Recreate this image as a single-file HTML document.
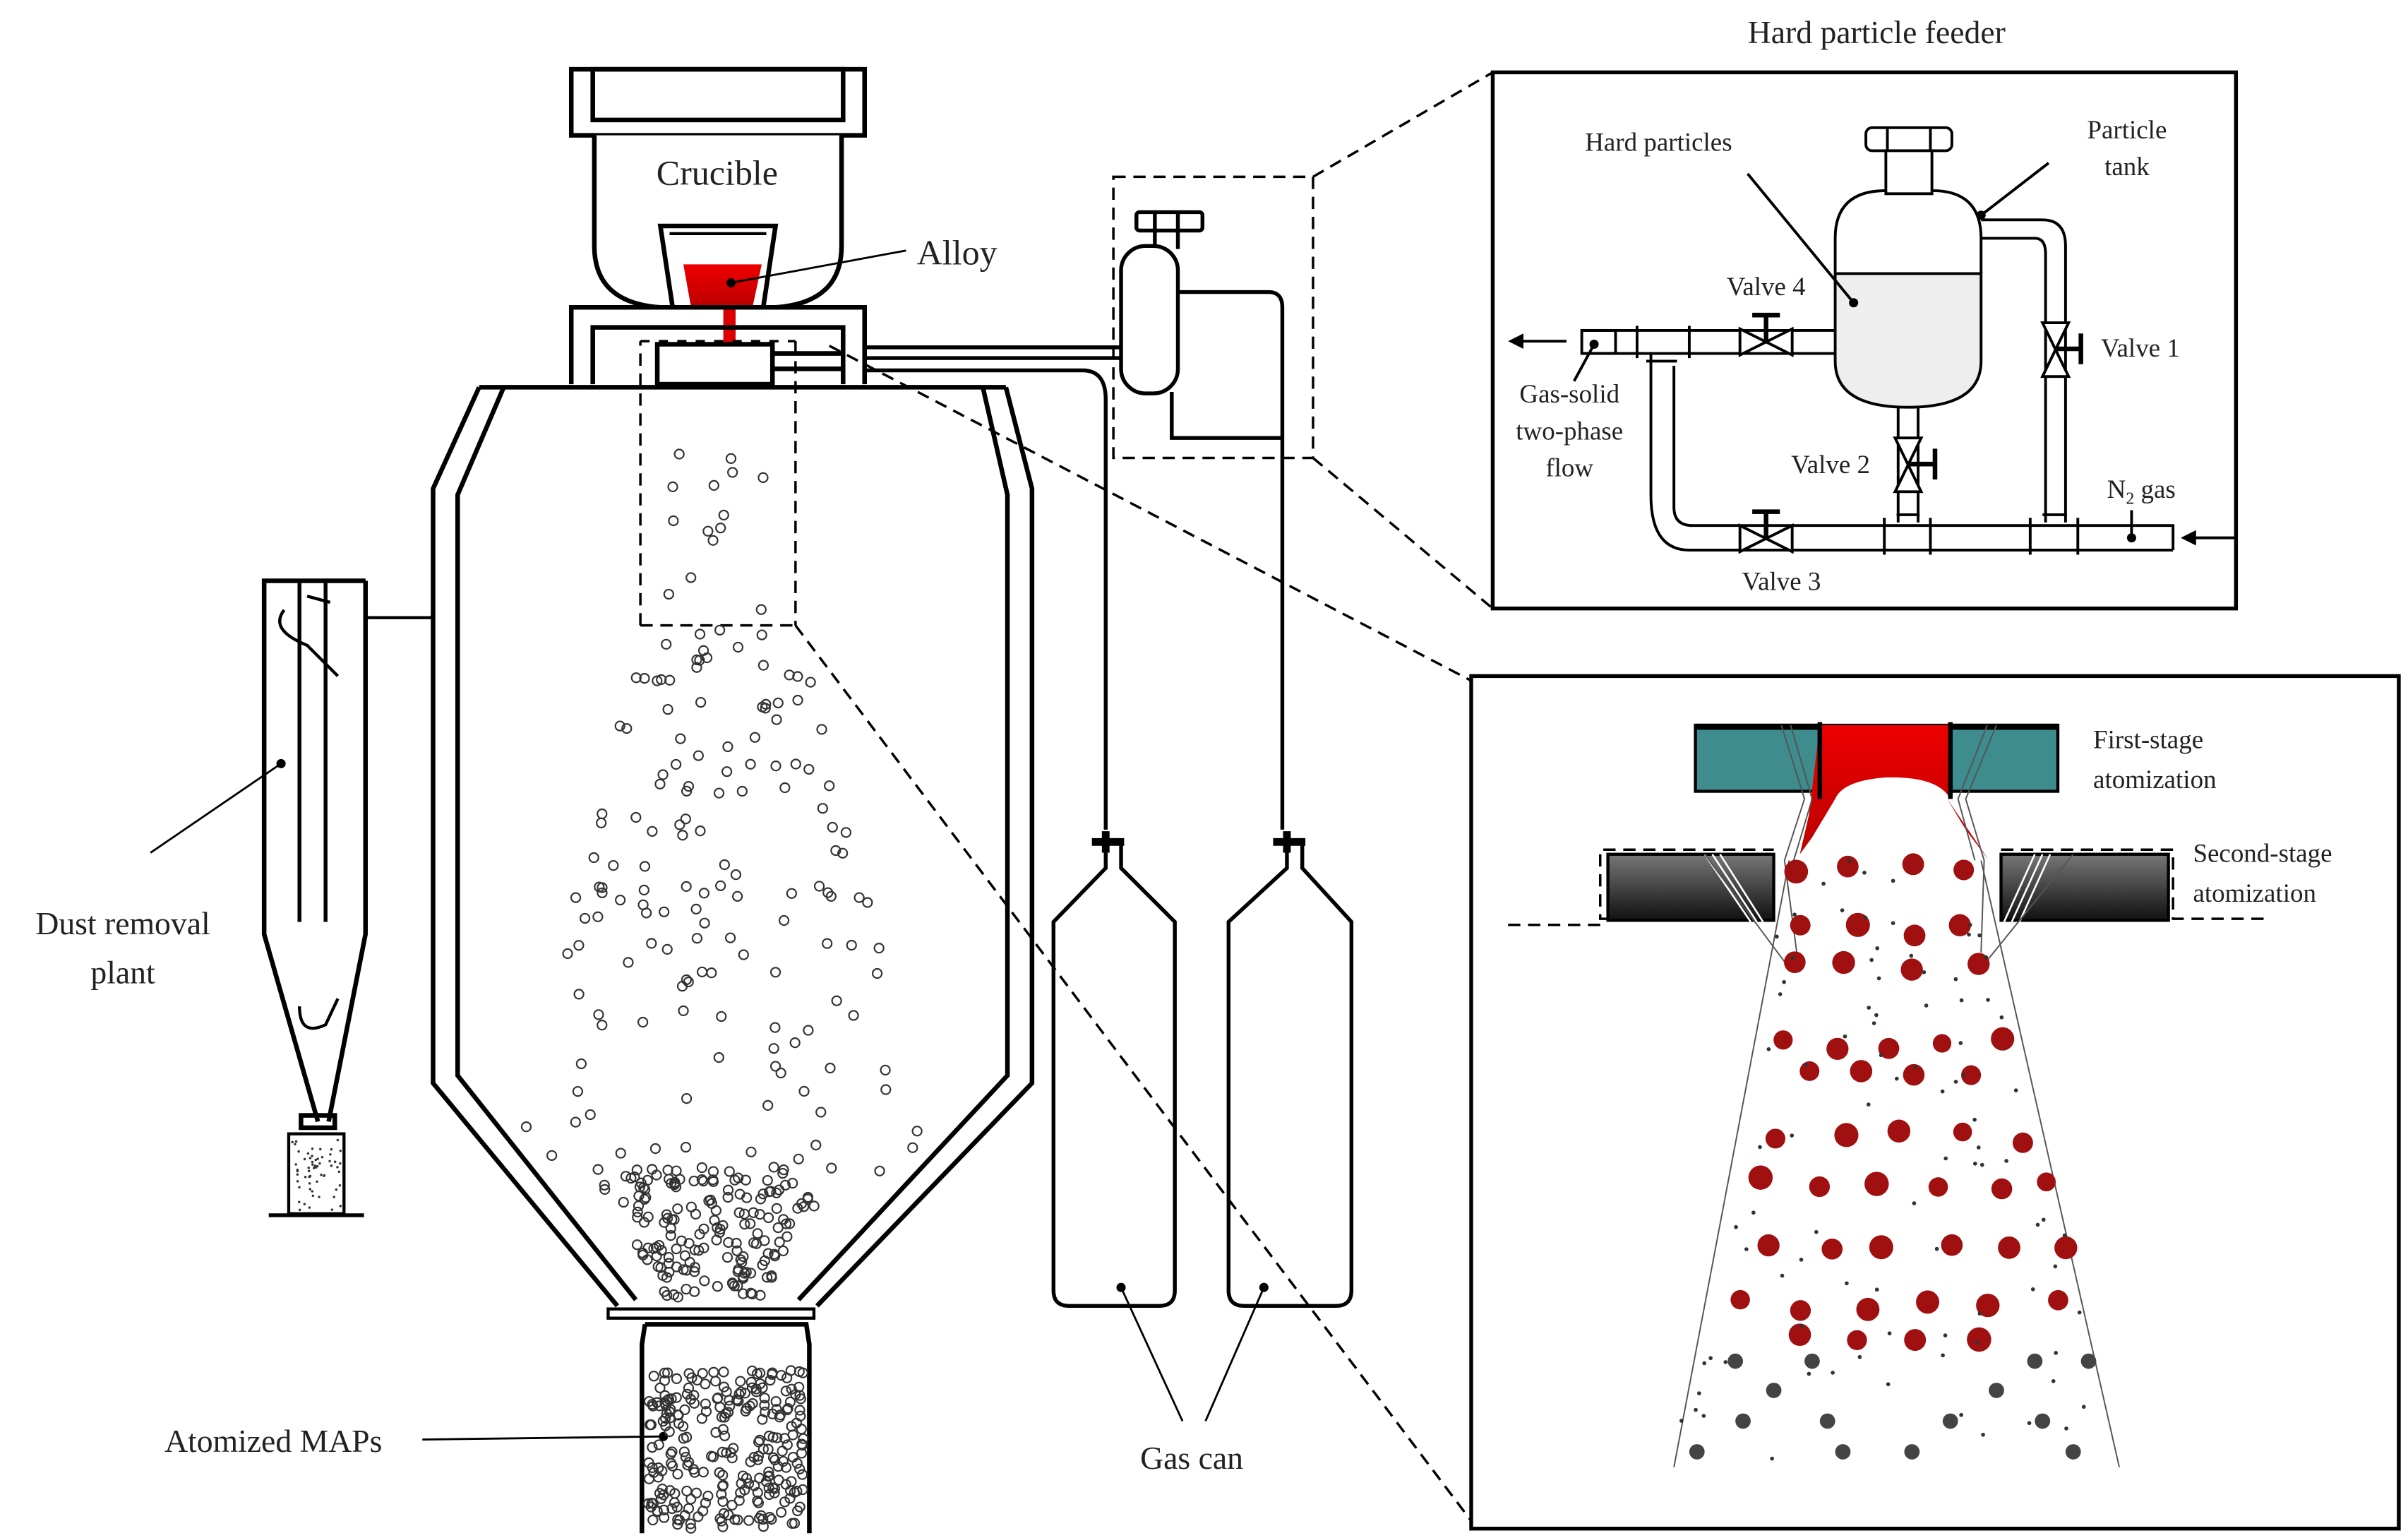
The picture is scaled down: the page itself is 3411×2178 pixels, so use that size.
<!DOCTYPE html>
<html><head><meta charset="utf-8"><style>
html,body{margin:0;padding:0;background:#fff}
svg{display:block}
text{font-family:"Liberation Serif",serif;fill:#222}
</style></head><body>
<svg id="s" width="3411" height="2178" viewBox="0 0 1568 1001" xmlns="http://www.w3.org/2000/svg">
<defs>
<linearGradient id="dk" x1="0" y1="0" x2="0" y2="1"><stop offset="0" stop-color="#777"/><stop offset="1" stop-color="#111"/></linearGradient>
<linearGradient id="rd" x1="0" y1="0" x2="0" y2="1"><stop offset="0" stop-color="#e00"/><stop offset="1" stop-color="#b00"/></linearGradient>
</defs>
<g fill="none" stroke="#000" stroke-width="3">
<!-- crucible -->
<rect x="372" y="45" width="191" height="43" fill="#fff"/>
<rect x="386" y="45" width="163" height="33"/>
<path d="M387 88 V160 Q387 197 430 200 H505 Q548 197 548 160 V88" fill="#fff"/>
<path d="M430 147 H505 L497 200 H438 Z"/>
<path d="M436 152 H499" stroke-width="2"/>
<path d="M445 172 H496 L490 200 H450 Z" fill="url(#rd)" stroke="none"/>
<rect x="471" y="198" width="8" height="25" fill="#d00" stroke="none"/>
<!-- support -->
<path d="M372 250 V200 H563 V250"/>
<path d="M386 250 V213 H549 V250"/>
<rect x="428" y="224" width="75" height="26" fill="#fff"/>
<path d="M503 230 H549 M503 240 H549"/>
<!-- chamber -->
<path d="M312 252 H655"/>
<path d="M312 252 L282 318 V705 L402 850"/>
<path d="M328 252 L298 322 V700 L414 846"/>
<path d="M640 252 L656 322 V700 L520 846"/>
<path d="M655 252 L672 318 V705 L532 850"/>
<!-- collection jar -->
<rect x="396" y="852" width="134" height="6" stroke-width="2"/>
<path d="M420 862 L418 875 V998 M527 998 V875 L525 862 H420"/>
<!-- dust removal -->
<path d="M238 378 H172 V608 L207 730 M238 378 V608 L214 730"/>
<path d="M195 378 V600 M212 378 V600" stroke-width="2.5"/>
<path d="M238 402 H282" stroke-width="2"/>
<path d="M185 397 Q175 410 200 420 L220 440 M200 388 L215 392" stroke-width="2"/>
<path d="M195 655 Q195 675 212 667 L220 650" stroke-width="2"/>
<rect x="196" y="726" width="22" height="8" stroke-width="3"/>
<rect x="188" y="738" width="36" height="52" stroke-width="2"/>
<path d="M175 791 H237" stroke-width="2.5"/>
<!-- pipes -->
<path d="M563 226 H730 M563 233 H730" stroke-width="2.5"/>
<path d="M563 241 H705 Q720 241 720 260 V540" stroke-width="2.5"/>
<path d="M763 190 H826 Q835 190 835 200 V540" stroke-width="2.5"/>
<path d="M763 255 V285 H835" stroke-width="2.5"/>
<!-- bottle in feeder box -->
<rect x="740" y="138" width="43" height="12" rx="2" stroke-width="2.5"/>
<path d="M752 138 V150 M767 138 V150 M752 150 V162 M767 150 V162" stroke-width="2.5"/>
<rect x="730" y="160" width="37" height="96" rx="16" fill="#fff" stroke-width="2.5"/>
<!-- gas cans -->
<path d="M720 548 V565 L686 600 V840 Q686 850 696 850 H755 Q765 850 765 840 V600 L730 565 V548" stroke-width="2.5"/>
<path d="M838 548 V565 L800 600 V840 Q800 850 810 850 H870 Q880 850 880 840 V600 L848 565 V548" stroke-width="2.5"/>
<path d="M711 548 H732 M720 541 V555 M829 548 H850 M838 541 V555" stroke-width="5"/>
<!-- dashed -->
<g stroke-width="1.6" stroke-dasharray="8 5">
<rect x="725" y="115" width="130" height="183"/>
<path d="M855 115 L972 47 M855 298 L972 396"/>
<path d="M417 407 V222 M518 222 V407 M417 407 H518"/>
<path d="M417 222 H518" stroke-dasharray="6 6"/>
<path d="M540 225 L958 443 M518 407 L958 990"/>
<path d="M1047 598 H1042 V553 H1155 M1303 553 H1415 V598 H1478 M1042 602 H980"/>
</g>
<!-- feeder box -->
<rect x="972" y="47" width="484" height="349" stroke-width="2.5"/>
<rect x="958" y="440" width="604" height="555" stroke-width="2.5"/>
</g>

<!-- feeder internals -->
<g fill="none" stroke="#000" stroke-width="1.8">
<rect x="1215" y="83" width="56" height="15" rx="4" fill="#fff"/>
<path d="M1229 83 V98 M1257 83 V98"/>
<rect x="1228" y="98" width="30" height="28" fill="#fff"/>
<path d="M1195 178 V235 Q1195 265 1242 265 Q1290 265 1290 235 V178 Z" fill="#eee"/>
<path d="M1195 178 V155 Q1195 124 1228 124 M1258 124 Q1290 124 1290 155 V178"/>
<path d="M1290 143 H1330 Q1345 143 1345 160 V340 M1290 155 H1325 Q1332 155 1332 165 V340"/>
<path d="M1236 265 V340 M1249 265 V340"/>
<path d="M1030 215 H1195 M1030 230 H1195"/>
<rect x="1030" y="215" width="22" height="15"/>
<path d="M1075 230 V322 Q1075 358 1100 358 H1415 M1090 238 V330 Q1090 342 1102 342 H1415 V358"/>
<path d="M1066 212 V233 M1100 212 V233 M1072 235 H1092"/>
<path d="M1227 337 V361 M1257 337 V361 M1322 337 V361 M1353 337 V361 M1235 335 H1250 M1330 335 H1346"/>
<!-- valves -->
<path d="M1133 214 L1167 231 V214 L1133 231 Z" fill="#fff"/>
<path d="M1150 222 V205 M1141 205 H1159" stroke-width="3"/>
<path d="M1133 342 L1167 359 V342 L1133 359 Z" fill="#fff"/>
<path d="M1150 350 V333 M1141 333 H1159" stroke-width="3"/>
<path d="M1234 285 L1251 320 H1234 L1251 285 Z" fill="#fff"/>
<path d="M1243 302 H1260 M1260 292 V312" stroke-width="3"/>
<path d="M1330 210 L1347 245 H1330 L1347 210 Z" fill="#fff"/>
<path d="M1339 227 H1355 M1355 217 V237" stroke-width="3"/>
<path d="M986 222 H1020 M1425 350 H1455"/>
<path d="M1138 113 L1207 197 M1290 140 L1334 106 M1038 224 L1025 248 M1388 332 V350"/>
</g>
<g fill="#000">
<path d="M982 222 l10 -5 v10z M1420 350 l10 -5 v10z"/>
<circle cx="1207" cy="197" r="3"/><circle cx="1290" cy="140" r="3"/><circle cx="1038" cy="224" r="3"/><circle cx="1388" cy="350" r="3"/>
<circle cx="476" cy="184" r="3"/><circle cx="183" cy="497" r="3"/><circle cx="432" cy="935" r="3"/>
<circle cx="730" cy="838" r="3"/><circle cx="823" cy="838" r="3"/>
</g>
<g stroke="#000" stroke-width="1.3" fill="none">
<path d="M476 184 L590 163 M183 497 L98 555 M432 935 L275 937 M730 838 L770 925 M823 838 L785 925"/>
</g>

<!-- atomization -->
<rect x="1104" y="472" width="81" height="43" fill="#3e8c8e" stroke="#000" stroke-width="2"/>
<rect x="1270" y="472" width="70" height="43" fill="#3e8c8e" stroke="#000" stroke-width="2"/>
<path d="M1104 473 H1340" stroke="#000" stroke-width="4"/>
<path d="M1185 472 H1270 V520 Q1262 505 1228 506 Q1200 508 1195 520 L1180 545 L1172 556 L1178 530 Z" fill="url(#rd)"/>
<path d="M1185 470 V520 M1270 470 V520" stroke="#000" stroke-width="3"/>
<path d="M1268 520 L1285 545 L1295 560 L1280 540 Z" fill="#c00"/>
<rect x="1047" y="556" width="108" height="43" fill="url(#dk)" stroke="#000" stroke-width="2"/>
<rect x="1303" y="556" width="109" height="43" fill="url(#dk)" stroke="#000" stroke-width="2"/>
<g stroke="#fff" stroke-width="1.2" fill="none">
<path d="M1110 556 L1140 600 M1115 556 L1144 600 M1120 556 L1148 600 M1325 556 L1305 600 M1330 556 L1310 600 M1335 556 L1315 600"/>
</g>
<g stroke="#555" stroke-width="0.9" fill="none">
<path d="M1160 472 L1175 520 L1162 560 L1170 620 M1166 472 L1180 520 L1168 560 M1300 472 L1280 520 L1292 560 L1290 620 M1294 472 L1275 520 L1286 560"/>
<path d="M1110 556 L1165 630 M1350 556 L1290 630"/>
<path d="M1165 560 L1090 955 M1290 560 L1380 955"/>
</g>
<g id="red"></g>

<!-- particles -->
<g id="pts" fill="none" stroke="#333" stroke-width="1"></g>
<g id="dust" fill="#333"></g>

<!-- labels -->
<g font-size="21">
<text x="1222" y="28" text-anchor="middle" font-size="21">Hard particle feeder</text>
<text x="467" y="120" text-anchor="middle" font-size="23">Crucible</text>
<text x="597" y="172" font-size="23">Alloy</text>
<text x="80" y="608" text-anchor="middle">Dust removal</text>
<text x="80" y="640" text-anchor="middle">plant</text>
<text x="178" y="945" text-anchor="middle">Atomized MAPs</text>
<text x="776" y="956" text-anchor="middle">Gas can</text>
</g>
<g font-size="17">
<text x="1080" y="98" text-anchor="middle">Hard particles</text>
<text x="1385" y="90" text-anchor="middle">Particle</text>
<text x="1385" y="114" text-anchor="middle">tank</text>
<text x="1150" y="192" text-anchor="middle">Valve 4</text>
<text x="1368" y="232">Valve 1</text>
<text x="1022" y="262" text-anchor="middle">Gas-solid</text>
<text x="1022" y="286" text-anchor="middle">two-phase</text>
<text x="1022" y="310" text-anchor="middle">flow</text>
<text x="1192" y="308" text-anchor="middle">Valve 2</text>
<text x="1372" y="324">N<tspan font-size="11" dy="4">2</tspan><tspan dy="-4"> gas</tspan></text>
<text x="1160" y="384" text-anchor="middle">Valve 3</text>
<text x="1363" y="487">First-stage</text>
<text x="1363" y="513">atomization</text>
<text x="1428" y="561">Second-stage</text>
<text x="1428" y="587">atomization</text>
</g>
</svg>
<script>
(function(){
var s=7;function r(){s=(s*9301+49297)%233280;return s/233280;}
var ns="http://www.w3.org/2000/svg",g=document.getElementById('pts'),red=document.getElementById('red'),d=document.getElementById('dust');
function c(p,x,y,rr,a){var e=document.createElementNS(ns,'circle');e.setAttribute('cx',x.toFixed(1));e.setAttribute('cy',y.toFixed(1));e.setAttribute('r',rr);if(a)for(var k in a)e.setAttribute(k,a[k]);p.appendChild(e);}
// sparse particles in chamber
for(var i=0;i<14;i++)c(g,430+r()*70,290+r()*110,3);
for(var i=0;i<150;i++){var y=410+r()*380;var t=(y-410)/380;var w=50+t*100;c(g,470-w+r()*2*w,y,3);}
for(var i=0;i<170;i++){var y=760+r()*85;var t=(y-760)/85;var w=80-t*50;c(g,465-w+r()*2*w,y,3);}
for(var i=0;i<260;i++)c(g,422+r()*102,892+r()*104,3);
for(var i=0;i<60;i++)c(d,190+r()*32,742+r()*46,0.8);
// red droplets
var rows=[[565,[1168,1205,1245,1282]],[605,[1175,1212,1245,1280]],[630,[1168,1198,1248,1285]],[680,[1160,1195,1230,1265,1300]],[700,[1178,1212,1248,1285]],[740,[1160,1200,1240,1280,1315]],[770,[1150,1185,1222,1262,1300,1335]],[810,[1150,1190,1228,1268,1308,1345]],[850,[1135,1175,1215,1258,1298,1338]],[870,[1170,1210,1250,1290]]];
rows.forEach(function(rw){rw[1].forEach(function(x){c(red,x+(r()-.5)*8,rw[0]+(r()-.5)*8,6+r()*2,{fill:'#a01010'});});});
[[886,1130],[886,1180],[886,1325],[886,1360],[905,1155],[905,1300],[925,1135],[925,1190],[925,1270],[925,1330],[945,1105],[945,1200],[945,1245],[945,1350]].forEach(function(p){c(red,p[1],p[0],5,{fill:'#444'});});
for(var i=0;i<90;i++){var y=560+r()*390;var t=(y-560)/390;var L=1165-t*75,R=1290+t*90;c(red,L+r()*(R-L),y,1.3,{fill:'#333'});}
})();
</script>
</body></html>
